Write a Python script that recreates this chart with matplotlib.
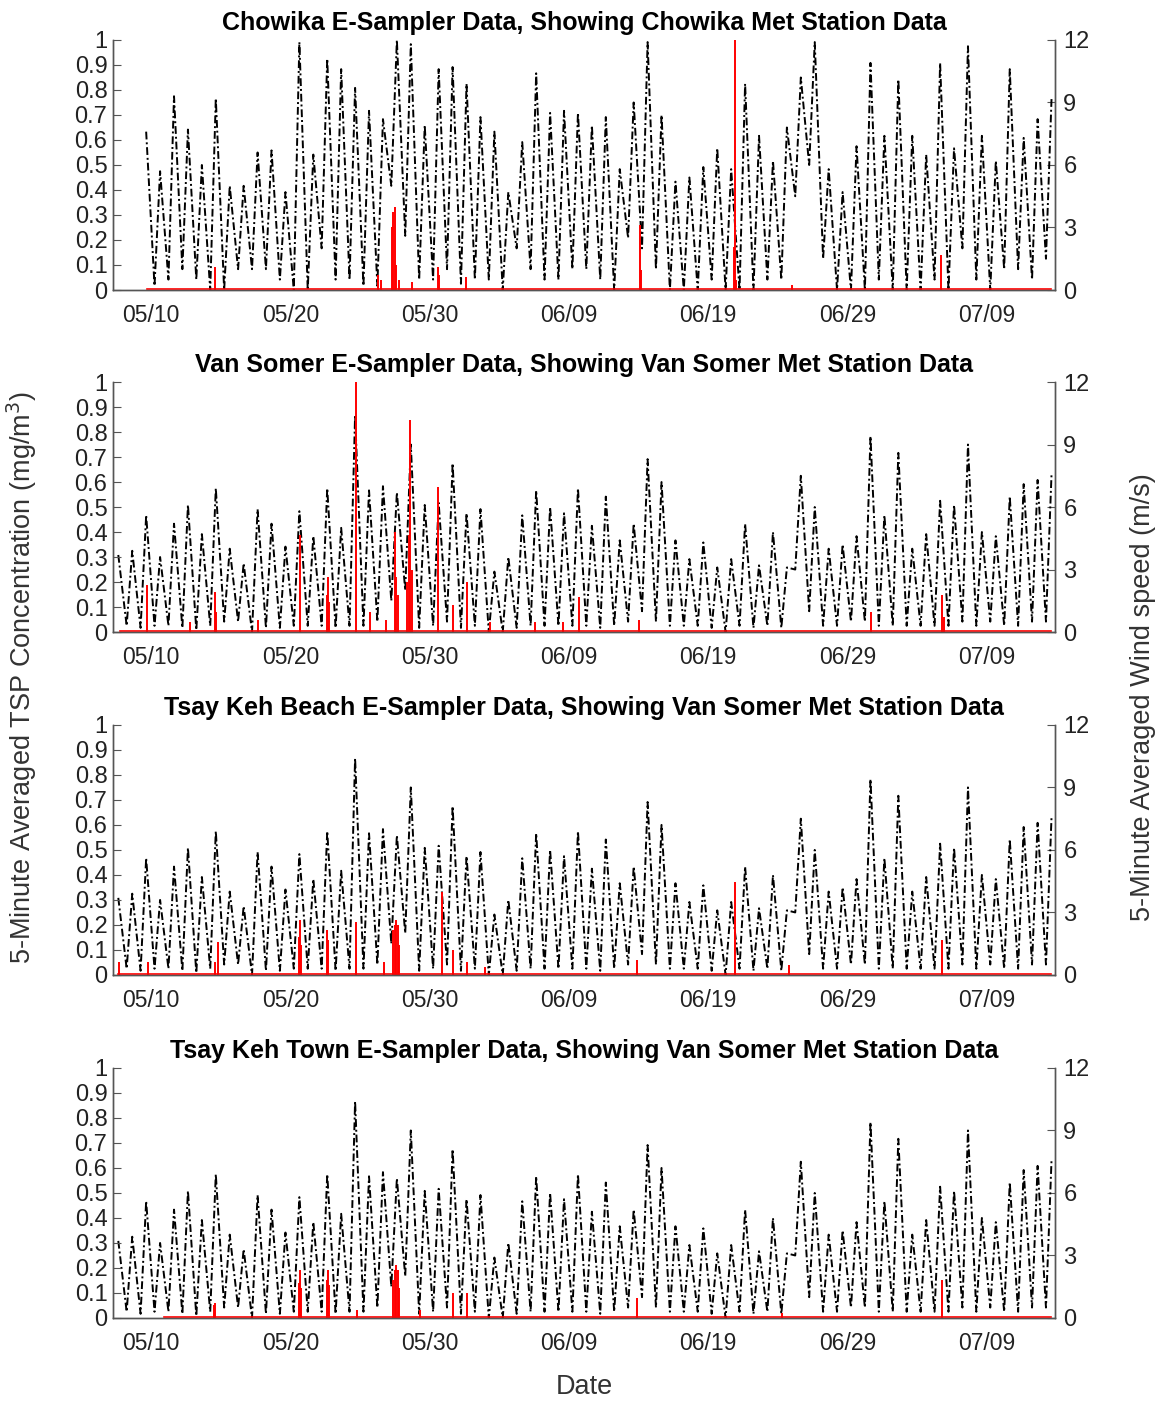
import numpy as np
import matplotlib
matplotlib.use("Agg")
import matplotlib.pyplot as plt

plt.rcParams['font.family'] = ['Liberation Sans', 'DejaVu Sans']

# time axis: days counted from 05/10 00:00
tick_days = [0, 10, 20, 30, 40, 50, 60]
tick_labels = ['05/10', '05/20', '05/30', '06/09', '06/19', '06/29', '07/09']

titles = ['Chowika E-Sampler Data, Showing Chowika Met Station Data',
          'Van Somer E-Sampler Data, Showing Van Somer Met Station Data',
          'Tsay Keh Beach E-Sampler Data, Showing Van Somer Met Station Data',
          'Tsay Keh Town E-Sampler Data, Showing Van Somer Met Station Data']

# wind speed (m/s): daily low and daily peak
cho_first_day = -1
cho_wind_hi = [7.6, 5.7, 9.3, 7.7, 6.0, 9.2, 5.0, 5.0, 6.6, 6.7, 4.7, 11.9, 6.5, 11.1,
               10.6, 9.7, 8.6, 8.2, 12.0, 11.8, 7.9, 10.6, 10.7, 9.9, 8.3, 7.6, 4.7, 7.1,
               10.4, 8.5, 8.6, 8.5, 7.9, 8.3, 5.8, 9.0, 11.9, 8.4, 5.2, 5.4, 5.9, 6.8,
               5.8, 9.9, 7.4, 6.2, 7.8, 10.2, 11.9, 5.8, 4.7, 6.9, 10.9, 7.4, 10.1, 7.4,
               6.5, 10.9, 6.8, 11.7, 7.4, 6.2, 10.6, 7.3, 8.2, 9.2]
cho_wind_lo = [np.nan, 0.2, 0.5, 1.0, 0.5, 0.0, 0.0, 1.0, 1.0, 1.0, 0.5, 0.0, 0.0, 2.0,
               0.5, 0.5, 0.2, 0.2, 5.0, 2.6, 0.5, 0.5, 1.0, 0.3, 0.5, 0.5, 0.0, 2.0,
               1.0, 0.5, 0.5, 1.0, 1.0, 0.5, 0.0, 2.5, 2.0, 1.0, 0.0, 0.0, 0.0, 0.5,
               0.0, 0.0, 0.0, 0.5, 0.5, 4.5, 6.0, 1.5, 0.0, 0.0, 0.0, 0.5, 0.0, 0.0,
               0.0, 0.5, 0.0, 2.0, 0.5, 0.0, 1.0, 1.0, 0.5, 1.5]

vs_first_day = -3
vs_wind_hi = [3.7, 3.9, 5.6, 3.6, 5.2, 6.1, 4.7, 6.9, 4.0, 3.3, 5.9, 5.2, 4.1, 5.8,
              4.6, 6.9, 5.0, 10.4, 6.8, 7.0, 6.7, 9.0, 6.1, 6.2, 8.1, 5.7, 5.9, 2.9,
              3.6, 5.6, 6.8, 6.0, 5.7, 6.9, 5.1, 6.5, 4.4, 5.2, 8.3, 7.2, 4.4, 3.5,
              4.3, 3.1, 3.5, 5.2, 3.2, 4.8, 3.1, 7.5, 6.0, 4.0, 4.2, 4.6, 9.4, 5.6,
              8.6, 4.0, 4.7, 6.3, 6.1, 9.0, 4.8, 4.6, 6.5, 7.1, 7.3, 7.6]
vs_wind_lo = [np.nan, 0.3, 0.2, 0.3, 0.3, 0.2, 0.1, 0.3, 0.5, 0.5, 0.0, 0.2, 0.2, 0.3,
              0.3, 0.3, 0.2, 0.3, 0.3, 0.5, 1.5, 2.0, 0.2, 0.3, 0.5, 0.2, 0.3, 0.0,
              0.0, 0.2, 0.3, 0.3, 0.3, 0.3, 0.3, 0.2, 0.3, 0.5, 1.0, 0.5, 0.3, 0.3,
              0.3, 0.2, 0.0, 0.3, 0.2, 0.3, 0.2, 3.0, 1.0, 0.3, 0.3, 0.5, 0.5, 0.3,
              0.3, 0.3, 0.3, 0.3, 0.3, 0.5, 0.3, 0.5, 0.3, 0.3, 0.5, 0.5]

# TSP (mg/m3): spike times (days from 05/10) and heights, plus record span
cho_tsp_t = [4.6, 16.3, 16.5, 17.3, 17.4, 17.5, 17.6, 17.8, 18.7, 20.6, 20.7, 22.6,
             35.1, 35.15, 41.85, 41.9, 42.0, 46.0, 56.7]
cho_tsp_v = [0.09, 0.06, 0.04, 0.25, 0.31, 0.33, 0.10, 0.04, 0.03, 0.09, 0.06, 0.05,
             0.26, 0.08, 0.17, 1.0, 0.04, 0.02, 0.14]
cho_tsp_span = (-0.3, 64.6)

vs_tsp_t = [-0.3, 2.8, 4.6, 4.7, 7.7, 10.7, 12.6, 12.7, 12.8, 14.7, 15.7, 16.9, 17.5,
            17.6, 17.7, 18.4, 18.5, 18.6, 18.7, 20.6, 21.7, 22.7, 24.3, 27.6, 29.6,
            30.7, 35.0, 51.7, 56.8, 56.9]
vs_tsp_v = [0.19, 0.04, 0.16, 0.08, 0.05, 0.39, 0.15, 0.22, 0.12, 1.0, 0.08, 0.05, 0.40,
            0.22, 0.15, 0.20, 0.39, 0.85, 0.25, 0.58, 0.11, 0.20, 0.04, 0.04, 0.04,
            0.14, 0.05, 0.08, 0.15, 0.06]
vs_tsp_span = (-2.2, 64.6)

tkb_tsp_t = [-2.3, -0.2, 4.6, 4.8, 10.6, 10.7, 10.8, 12.6, 12.7, 14.7, 16.7, 17.4, 17.5,
             17.6, 17.7, 17.8, 20.9, 21.7, 22.7, 24.0, 34.9, 41.9, 45.8, 56.8]
tkb_tsp_v = [0.05, 0.05, 0.05, 0.13, 0.15, 0.22, 0.12, 0.18, 0.14, 0.21, 0.05, 0.18, 0.20,
             0.22, 0.20, 0.12, 0.33, 0.10, 0.05, 0.03, 0.06, 0.37, 0.04, 0.14]
tkb_tsp_span = (-2.4, 64.6)

tkt_tsp_t = [4.5, 4.6, 10.6, 10.7, 10.8, 12.6, 12.7, 12.8, 14.8, 17.4, 17.5, 17.6, 17.7,
             17.8, 19.3, 21.7, 22.7, 34.9, 45.3, 56.8]
tkt_tsp_v = [0.05, 0.06, 0.14, 0.19, 0.12, 0.15, 0.19, 0.13, 0.03, 0.15, 0.19, 0.21, 0.19,
             0.12, 0.03, 0.10, 0.10, 0.08, 0.02, 0.15]
tkt_tsp_span = (0.9, 64.6)


def wind_series(first_day, lo, hi):
    days = np.arange(first_day, first_day + len(hi))
    t = np.empty(2 * len(hi))
    v = np.empty(2 * len(hi))
    t[0::2] = days + 0.25
    t[1::2] = days + 0.65
    v[0::2] = lo
    v[1::2] = hi
    return t, v


cho_wind = wind_series(cho_first_day, cho_wind_lo, cho_wind_hi)
vs_wind = wind_series(vs_first_day, vs_wind_lo, vs_wind_hi)

panels = [
    (titles[0], cho_wind, cho_tsp_t, cho_tsp_v, cho_tsp_span),
    (titles[1], vs_wind, vs_tsp_t, vs_tsp_v, vs_tsp_span),
    (titles[2], vs_wind, tkb_tsp_t, tkb_tsp_v, tkb_tsp_span),
    (titles[3], vs_wind, tkt_tsp_t, tkt_tsp_v, tkt_tsp_span),
]

fig = plt.figure(figsize=(11.65, 14.03), dpi=100)
bottoms = [0.7933, 0.5495, 0.3051, 0.0606]
gray = '#555555'

for (title, wind, tt, tv, span), b in zip(panels, bottoms):
    ax = fig.add_axes([0.097, b, 0.8086, 0.1782])
    ax2 = ax.twinx()
    ax.set_zorder(ax2.get_zorder() + 1)
    ax.patch.set_visible(False)

    ax2.plot(wind[0], wind[1], color='black', linestyle=(0, (4, 1.5, 1, 1.5)),
             linewidth=1.4)
    ax.plot(span, [0.004, 0.004], color='red', linewidth=1.2)
    ax.vlines(tt, 0, tv, color='red', linewidth=1.4)

    ax.set_xlim(-2.73, 64.9)
    ax.set_ylim(0, 1)
    ax2.set_ylim(0, 12)
    ax.set_yticks(np.arange(0, 1.01, 0.1))
    ax.set_yticklabels(['0', '0.1', '0.2', '0.3', '0.4', '0.5', '0.6', '0.7', '0.8', '0.9', '1'])
    ax2.set_yticks([0, 3, 6, 9, 12])
    ax.set_xticks(tick_days)
    ax.set_xticklabels(tick_labels)

    for a in (ax, ax2):
        a.spines['top'].set_visible(False)
        for s in ('left', 'right', 'bottom'):
            a.spines[s].set_color(gray)
            a.spines[s].set_linewidth(1.0)
    ax.tick_params(axis='y', direction='in', length=6, color=gray, labelsize=17,
                   pad=4, labelcolor='#222222')
    ax2.tick_params(axis='y', direction='in', length=6, color=gray, labelsize=17,
                    pad=6, labelcolor='#222222')
    ax.tick_params(axis='x', length=0, labelsize=16.5, pad=10, labelcolor='#222222')
    ax.set_title(title, fontsize=18, fontweight='bold', pad=7)

fig.text(0.019, 0.517, '5-Minute Averaged TSP Concentration (mg/m$^3$)',
         rotation=90, va='center', ha='center', fontsize=19.5, color='#333333')
fig.text(0.981, 0.503, '5-Minute Averaged Wind speed (m/s)',
         rotation=90, va='center', ha='center', fontsize=19.5, color='#333333')
fig.text(0.502, 0.002, 'Date', ha='center', va='bottom', fontsize=19.5, color='#333333')

fig.savefig('out.png', dpi=100)
